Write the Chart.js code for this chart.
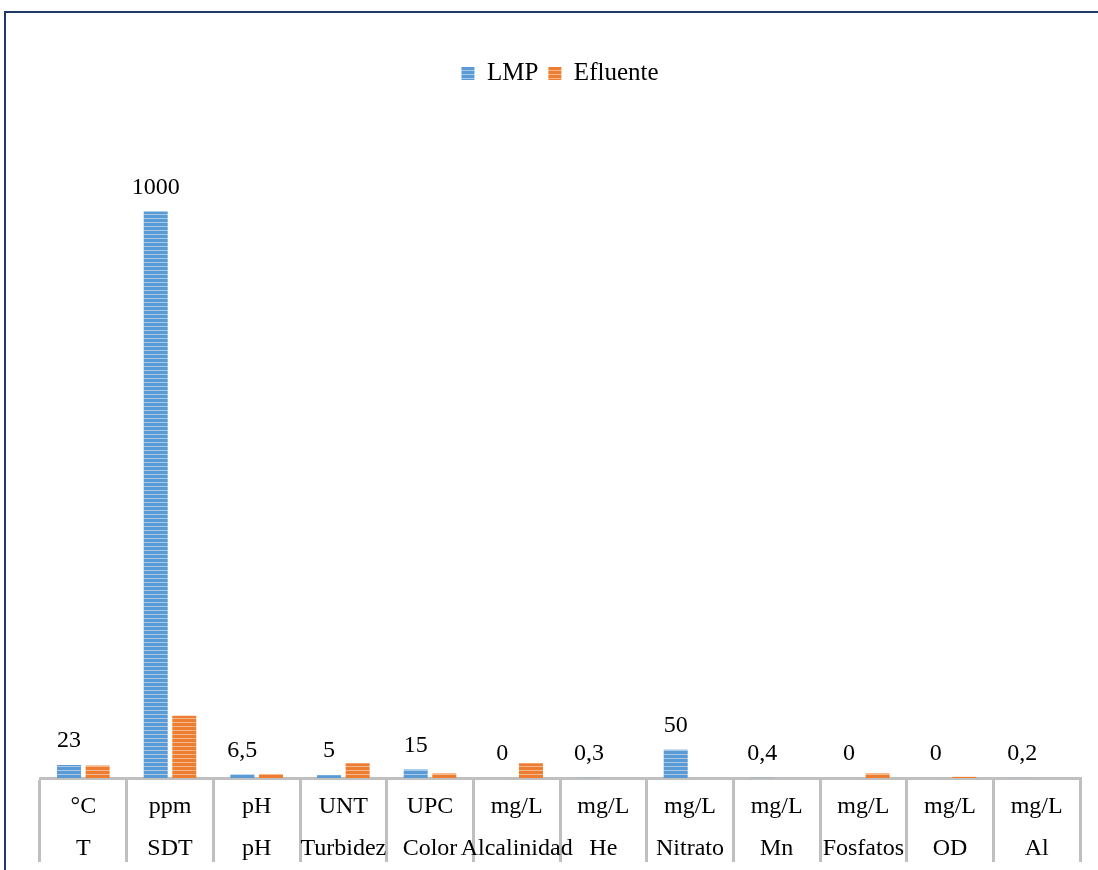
<!DOCTYPE html>
<html>
<head>
<meta charset="utf-8">
<script src="https://cdn.jsdelivr.net/npm/chart.js@4"></script>
<style>
  html, body { margin: 0; padding: 0; background: #fff; }
  body { width: 1098px; height: 870px; position: relative; overflow: hidden; }
  #marco {
    position: absolute; left: 4px; top: 11px;
    width: 1110px; height: 900px;
    border: 2px solid #1f3864;
  }
  #grafico { position: absolute; left: 0; top: 0; }
</style>
</head>
<body>
<div id="marco"></div>
<canvas id="grafico" width="1098" height="870"></canvas>
<script>
// parámetros, unidades y valores
const parametros = ['T', 'SDT', 'pH', 'Turbidez', 'Color', 'Alcalinidad', 'He', 'Nitrato', 'Mn', 'Fosfatos', 'OD', 'Al'];
const unidades = ['°C', 'ppm', 'pH', 'UNT', 'UPC', 'mg/L', 'mg/L', 'mg/L', 'mg/L', 'mg/L', 'mg/L', 'mg/L'];
const valoresLMP = [23, 1000, 6.5, 5, 15, 0, 0.3, 50, 0.4, 0, 0, 0.2];
const valoresEfluente = [22, 110, 7, 26, 8, 26, 0, 0, 0, 8, 2, 0];

const FUENTE = "'Liberation Serif', 'Times New Roman', serif";

// relleno rayado horizontal para las barras
function crearRayado(base, claro) {
    const c = document.createElement('canvas');
    c.width = 4;
    c.height = 4;
    const ctx = c.getContext('2d');
    ctx.fillStyle = base;
    ctx.fillRect(0, 0, 4, 4);
    ctx.fillStyle = claro;
    ctx.fillRect(0, 2, 4, 1);
    return ctx.createPattern(c, 'repeat');
}

const rayadoAzul = crearRayado('#5b9bd5', '#a9c9ea');
const rayadoNaranja = crearRayado('#ed7d31', '#f6b98f');

// etiquetas de valor sobre las barras LMP
const etiquetasLMP = {
    id: 'etiquetasLMP',
    afterDatasetsDraw(chart) {
        const ctx = chart.ctx;
        const meta = chart.getDatasetMeta(0);
        ctx.save();
        ctx.font = '24px ' + FUENTE;
        ctx.fillStyle = '#000';
        ctx.textAlign = 'center';
        ctx.textBaseline = 'bottom';
        meta.data.forEach((barra, i) => {
            const texto = String(valoresLMP[i]).replace('.', ',');
            ctx.fillText(texto, barra.x, barra.y - 12);
        });
        ctx.restore();
    }
};

const etiquetas = parametros.map((p, i) => [unidades[i], p]);

new Chart(document.getElementById('grafico'), {
    type: 'bar',
    data: {
        labels: etiquetas,
        datasets: [
            {
                label: 'LMP',
                data: valoresLMP,
                backgroundColor: rayadoAzul,
                borderWidth: 0,
                barPercentage: 0.84,
                categoryPercentage: 0.66
            },
            {
                label: 'Efluente',
                data: valoresEfluente,
                backgroundColor: rayadoNaranja,
                borderWidth: 0,
                barPercentage: 0.84,
                categoryPercentage: 0.66
            }
        ]
    },
    options: {
        responsive: false,
        animation: false,
        layout: { padding: { top: 51, left: 40, right: 18, bottom: 0 } },
        plugins: {
            legend: {
                position: 'top',
                labels: {
                    font: { family: FUENTE, size: 25 },
                    color: '#000',
                    boxWidth: 13,
                    boxHeight: 13,
                    padding: 10
                }
            },
            tooltip: { enabled: false }
        },
        scales: {
            x: {
                offset: true,
                grid: {
                    offset: true,
                    drawOnChartArea: false,
                    color: '#bfbfbf',
                    lineWidth: 3,
                    tickLength: 84
                },
                border: { display: true, color: '#bfbfbf', width: 3 },
                ticks: {
                    font: { family: FUENTE, size: 24, lineHeight: 1.75 },
                    color: '#000',
                    padding: -76,
                    maxRotation: 0,
                    autoSkip: false
                },
                afterFit(scale) { scale.height = 92; }
            },
            y: {
                display: false,
                min: 0,
                max: 1204
            }
        }
    },
    plugins: [etiquetasLMP]
});
</script>
</body>
</html>
